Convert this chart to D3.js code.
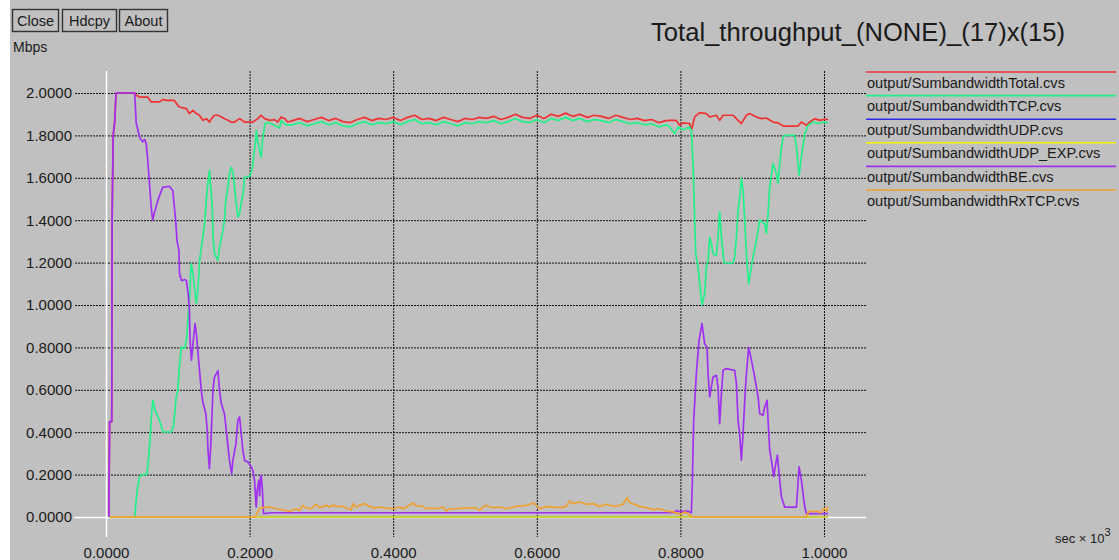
<!DOCTYPE html>
<html>
<head>
<meta charset="utf-8">
<script src="https://cdn.jsdelivr.net/npm/d3@7"></script>
<style>
  body { margin: 0; background: #fff; }
  svg { display: block; }
  text { font-family: "Liberation Sans", Arial, Helvetica, sans-serif; fill: #1a1a1a; }
</style>
</head>
<body>
<svg id="chart" width="1119" height="560"></svg>
<script>
// ---- data ----
var title = "Total_throughput_(NONE)_(17)x(15)";
var buttons = ["Close", "Hdcpy", "About"];
var xTicks = [0, 0.2, 0.4, 0.6, 0.8, 1.0];
var yTicks = [0, 0.2, 0.4, 0.6, 0.8, 1.0, 1.2, 1.4, 1.6, 1.8, 2.0];
var seriesNames = ["output/SumbandwidthTotal.cvs", "output/SumbandwidthTCP.cvs", "output/SumbandwidthUDP.cvs",
                   "output/SumbandwidthUDP_EXP.cvs", "output/SumbandwidthBE.cvs", "output/SumbandwidthRxTCP.cvs"];
var seriesColors = ["#f03232", "#22f088", "#2a2ae8", "#f4f400", "#a030f0", "#f0a030"];

// [time (sec x 10^3), Mbps]
var total = [[0.004,0],[0.005,0.45],[0.008,0.45],[0.0085,1.4],[0.010,1.80],[0.012,1.86],[0.014,2.0],[0.040,2.0],
  [0.042,1.989],[0.047,1.981],[0.058,1.981],[0.063,1.958],[0.0745,1.958],[0.079,1.969],[0.086,1.965],[0.095,1.965],
  [0.102,1.934],[0.112,1.926],[0.116,1.903],[0.121,1.918],[0.126,1.903],[0.130,1.895],[0.135,1.871],[0.140,1.879],
  [0.144,1.863],[0.147,1.879],[0.151,1.895],[0.156,1.895],[0.161,1.887],[0.165,1.879],[0.170,1.871],[0.174,1.863],
  [0.179,1.863],[0.186,1.879],[0.193,1.863],[0.2045,1.863],[0.2115,1.879],[0.216,1.895],[0.221,1.879],[0.228,1.871],
  [0.235,1.874],[0.239,1.863],[0.244,1.887],[0.249,1.879],[0.253,1.863],
  [0.26,1.87],[0.27,1.88],[0.28,1.865],[0.29,1.875],[0.30,1.885],[0.31,1.87],[0.32,1.88],[0.33,1.865],[0.34,1.86],
  [0.35,1.875],[0.36,1.885],[0.37,1.87],[0.38,1.88],[0.39,1.875],[0.40,1.885],[0.41,1.87],[0.42,1.885],[0.43,1.895],
  [0.44,1.875],[0.45,1.88],[0.46,1.87],[0.47,1.885],[0.48,1.875],[0.49,1.865],[0.50,1.88],[0.51,1.875],[0.52,1.885],
  [0.53,1.88],[0.54,1.89],[0.55,1.875],[0.56,1.885],[0.57,1.90],[0.58,1.885],[0.59,1.88],[0.60,1.895],[0.61,1.88],
  [0.62,1.90],[0.63,1.89],[0.64,1.905],[0.65,1.89],[0.66,1.90],[0.67,1.885],[0.68,1.895],[0.69,1.89],[0.70,1.88],
  [0.71,1.895],[0.72,1.885],[0.73,1.875],[0.74,1.88],[0.75,1.87],[0.76,1.875],[0.77,1.86],[0.78,1.87],
  [0.785,1.871],[0.794,1.871],[0.799,1.848],[0.8036,1.859],[0.8129,1.856],[0.8153,1.824],[0.8199,1.887],[0.8268,1.907],
  [0.8361,1.903],[0.8408,1.887],[0.8501,1.895],[0.8547,1.871],[0.8594,1.895],[0.8733,1.895],[0.8803,1.871],[0.8849,1.856],
  [0.8919,1.895],[0.8965,1.903],[0.9058,1.887],[0.9128,1.879],[0.9197,1.882],[0.929,1.863],[0.936,1.859],[0.943,1.844],
  [0.9639,1.844],[0.9685,1.863],[0.9755,1.848],[0.9801,1.863],[0.9871,1.879],[0.9941,1.871],[1.001,1.876],[1.0057,1.876]];

var tcp = [[0.005,0],[0.040,0],[0.042,0.08],[0.044,0.14],[0.0467,0.188],[0.049,0.2],[0.0569,0.2],[0.059,0.267],
  [0.0616,0.377],[0.0635,0.488],[0.0653,0.55],[0.068,0.51],[0.071,0.48],[0.0745,0.456],[0.0792,0.401],[0.0908,0.401],
  [0.094,0.43],[0.0978,0.566],[0.100,0.597],[0.102,0.70],[0.1048,0.802],[0.108,0.795],[0.110,0.80],[0.1126,0.85],
  [0.114,0.93],[0.1163,1.022],[0.118,1.16],[0.1187,1.195],[0.121,1.15],[0.123,1.09],[0.1257,1.006],[0.128,1.07],
  [0.1303,1.21],[0.134,1.30],[0.1372,1.383],[0.139,1.46],[0.141,1.55],[0.1442,1.635],[0.146,1.55],[0.148,1.46],
  [0.149,1.33],[0.1512,1.242],[0.1558,1.21],[0.158,1.27],[0.1628,1.352],[0.165,1.40],[0.167,1.50],[0.1697,1.556],
  [0.172,1.62],[0.1744,1.65],[0.177,1.62],[0.179,1.556],[0.181,1.49],[0.1837,1.415],[0.186,1.43],[0.188,1.477],
  [0.191,1.525],[0.193,1.603],[0.198,1.605],[0.2009,1.611],[0.204,1.65],[0.206,1.71],[0.2083,1.777],[0.2093,1.824],
  [0.211,1.777],[0.2139,1.73],[0.2162,1.698],[0.218,1.777],[0.220,1.824],[0.2213,1.855],[0.2278,1.86],[0.2417,1.835],
  [0.244,1.87],[0.251,1.85],
  [0.26,1.85],[0.27,1.86],[0.28,1.845],[0.29,1.855],[0.30,1.865],[0.31,1.85],[0.32,1.86],[0.33,1.845],[0.34,1.84],
  [0.35,1.855],[0.36,1.865],[0.37,1.85],[0.38,1.86],[0.39,1.855],[0.40,1.865],[0.41,1.85],[0.42,1.865],[0.43,1.875],
  [0.44,1.855],[0.45,1.86],[0.46,1.85],[0.47,1.865],[0.48,1.855],[0.49,1.845],[0.50,1.86],[0.51,1.855],[0.52,1.865],
  [0.53,1.86],[0.54,1.87],[0.55,1.855],[0.56,1.865],[0.57,1.88],[0.58,1.865],[0.59,1.86],[0.60,1.875],[0.61,1.86],
  [0.62,1.88],[0.63,1.87],[0.64,1.885],[0.65,1.87],[0.66,1.88],[0.67,1.865],[0.68,1.875],[0.69,1.87],[0.70,1.86],
  [0.71,1.875],[0.72,1.865],[0.73,1.855],[0.74,1.86],[0.75,1.85],[0.76,1.855],[0.77,1.84],[0.78,1.85],
  [0.785,1.84],[0.792,1.808],[0.797,1.84],[0.8036,1.827],[0.8129,1.84],[0.8153,1.824],[0.8176,1.667],[0.8199,1.40],
  [0.8213,1.242],[0.8245,1.18],[0.8278,1.07],[0.8301,1.0],[0.8338,1.054],[0.8361,1.18],[0.8385,1.21],[0.8408,1.32],
  [0.8431,1.29],[0.8454,1.242],[0.8501,1.234],[0.8524,1.32],[0.8547,1.439],[0.8571,1.32],[0.8594,1.242],[0.8608,1.198],
  [0.8733,1.198],[0.8756,1.227],[0.878,1.32],[0.8803,1.446],[0.8826,1.51],[0.8849,1.596],[0.8873,1.541],[0.8896,1.40],
  [0.8919,1.242],[0.8951,1.10],[0.8965,1.132],[0.9012,1.227],[0.9058,1.305],[0.9105,1.40],[0.9174,1.384],[0.9197,1.337],
  [0.9221,1.431],[0.9244,1.557],[0.929,1.667],[0.9337,1.62],[0.936,1.573],[0.9383,1.667],[0.9407,1.745],[0.943,1.792],
  [0.9453,1.80],[0.9592,1.80],[0.9616,1.745],[0.9653,1.612],[0.9685,1.698],[0.9732,1.808],[0.9778,1.848],[0.9848,1.863],
  [0.9918,1.856],[0.9987,1.863],[1.0057,1.859]];

var udp = [[0.005,0],[1.0057,0]];
var udpExp = [[0.005,0],[1.0057,0]];

var be = [[0.004,0],[0.005,0.45],[0.008,0.45],[0.0085,1.4],[0.010,1.80],[0.012,1.86],[0.014,2.0],[0.040,2.0],
  [0.042,1.86],[0.047,1.79],[0.051,1.77],[0.054,1.78],[0.056,1.76],[0.058,1.69],[0.060,1.60],[0.063,1.46],[0.065,1.40],
  [0.067,1.43],[0.072,1.49],[0.075,1.52],[0.079,1.555],[0.088,1.56],[0.093,1.54],[0.097,1.40],[0.099,1.30],[0.1015,1.26],
  [0.1024,1.147],[0.1052,1.115],[0.110,1.12],[0.112,1.115],[0.1145,1.05],[0.116,0.99],[0.1172,0.83],[0.119,0.74],
  [0.1215,0.83],[0.124,0.912],[0.126,0.86],[0.128,0.78],[0.1303,0.69],[0.1326,0.60],[0.135,0.54],[0.139,0.487],
  [0.141,0.41],[0.142,0.32],[0.144,0.228],[0.146,0.34],[0.149,0.60],[0.151,0.66],[0.156,0.69],[0.158,0.60],
  [0.1605,0.535],[0.165,0.487],[0.1675,0.41],[0.170,0.33],[0.172,0.267],[0.175,0.205],[0.1767,0.267],[0.181,0.346],
  [0.1836,0.456],[0.186,0.472],[0.1874,0.425],[0.1906,0.315],[0.193,0.267],[0.1976,0.259],[0.2023,0.236],[0.2045,0.22],
  [0.2069,0.173],[0.2092,0.047],[0.2106,0.126],[0.2129,0.173],[0.2139,0.10],[0.2152,0.19],[0.2162,0.196],[0.2176,0.14],
  [0.2194,0.016],[0.23,0.02],[0.79,0.02],[0.7943,0.03],[0.80,0.025],[0.81,0.028],[0.8153,0.02],[0.8167,0.173],
  [0.8185,0.456],[0.8222,0.676],[0.826,0.833],[0.8301,0.912],[0.8338,0.817],[0.8371,0.80],[0.8385,0.676],[0.8408,0.566],
  [0.8431,0.613],[0.8454,0.66],[0.8501,0.668],[0.8524,0.613],[0.8547,0.44],[0.8571,0.582],[0.8594,0.692],[0.864,0.70],
  [0.8756,0.692],[0.878,0.629],[0.8803,0.456],[0.8826,0.393],[0.8849,0.268],[0.8873,0.393],[0.8896,0.55],[0.8919,0.676],
  [0.8951,0.80],[0.8989,0.74],[0.9035,0.66],[0.9082,0.566],[0.9105,0.487],[0.9151,0.48],[0.9174,0.518],[0.9207,0.55],
  [0.9221,0.456],[0.9244,0.315],[0.9267,0.268],[0.930,0.19],[0.9328,0.252],[0.9351,0.292],[0.9383,0.173],[0.9407,0.094],
  [0.9453,0.047],[0.9616,0.047],[0.9653,0.236],[0.9685,0.173],[0.9732,0.047],[0.9755,0.016],[1.0057,0.016]];

var rxTcp = [[0.005,0],[0.2069,0],[0.2092,0.01],[0.2139,0.04],[0.2185,0.044],[0.2278,0.047],[0.2371,0.039],[0.2464,0.034],
  [0.2557,0.026],[0.265,0.039],[0.2696,0.031],[0.2743,0.055],[0.2789,0.042],[0.2859,0.039],[0.2919,0.06],[0.2975,0.044],
  [0.3068,0.055],[0.3115,0.047],[0.3161,0.057],[0.3208,0.05],[0.3301,0.05],[0.337,0.039],[0.3416,0.034],[0.344,0.063],
  [0.3486,0.047],[0.3532,0.055],[0.3602,0.063],[0.3672,0.05],[0.3741,0.042],[0.3811,0.047],[0.3904,0.042],[0.3997,0.039],
  [0.409,0.047],[0.4136,0.039],[0.4229,0.055],[0.4275,0.066],[0.4322,0.053],[0.4415,0.05],[0.4461,0.039],[0.4508,0.042],
  [0.4601,0.039],[0.4694,0.047],[0.474,0.028],[0.4786,0.039],[0.4879,0.039],[0.4972,0.042],[0.5158,0.042],[0.5204,0.031],
  [0.525,0.047],[0.5297,0.055],[0.5344,0.047],[0.5389,0.044],[0.5482,0.047],[0.5575,0.039],[0.5714,0.05],[0.5854,0.055],
  [0.596,0.066],[0.6039,0.039],[0.6132,0.05],[0.6225,0.047],[0.6318,0.044],[0.6411,0.05],[0.6457,0.076],[0.6503,0.063],
  [0.6596,0.071],[0.6689,0.06],[0.6782,0.063],[0.6875,0.05],[0.6968,0.06],[0.7061,0.05],[0.7153,0.055],[0.72,0.06],
  [0.726,0.091],[0.7293,0.066],[0.7362,0.06],[0.7432,0.05],[0.7525,0.044],[0.7618,0.035],[0.7711,0.039],[0.7804,0.028],
  [0.7897,0.024],[0.7967,0.016],[0.8013,0.013],[0.806,0.024],[0.8106,0.016],[0.8153,0.003],[0.8176,0],[0.9746,0],
  [0.9793,0.027],[0.9909,0.027],[0.9955,0.019],[1.0002,0.042],[1.0034,0.027],[1.0057,0.05]];

var seriesData = [total, tcp, udp, udpExp, be, rxTcp];

// ---- drawing ----
var svg = d3.select("#chart");
var W = 1119, H = 560;

svg.append("rect").attr("width", W).attr("height", H).attr("fill", "#fff");
svg.append("rect").attr("x", 10).attr("width", W - 10).attr("height", H).attr("fill", "#c0c0c0");

var x = d3.scaleLinear().domain([0, 1]).range([106, 824]);
var y = d3.scaleLinear().domain([0, 2]).range([517, 93]);

var gridLeft = 74, gridRight = 866, gridTop = 71, gridBottom = 537;

// y grid + labels
var yAxis = svg.append("g")
  .attr("transform", "translate(" + gridRight + ",0)")
  .call(d3.axisLeft(y).tickValues(yTicks).tickSize(gridRight - gridLeft).tickPadding(2).tickFormat(d3.format(".4f")));

// x grid + labels
var xAxis = svg.append("g")
  .attr("transform", "translate(0," + gridTop + ")")
  .call(d3.axisBottom(x).tickValues(xTicks).tickSize(gridBottom - gridTop).tickPadding(10).tickFormat(d3.format(".4f")));

[yAxis, xAxis].forEach(function(g){
  g.select(".domain").remove();
  g.selectAll(".tick line")
    .attr("stroke", function(d){ return d === 0 ? "#fff" : "#111"; })
    .attr("stroke-width", function(d){ return d === 0 ? 1.5 : 1; })
    .attr("stroke-dasharray", function(d){ return d === 0 ? null : "2,1"; });
  g.selectAll(".tick text")
    .style("font-size", "15px")
    .attr("fill", "#1a1a1a");
});

// zero axes drawn on top of the grid in white
xAxis.raise();

// lines
var line = d3.line()
  .x(function(d){ return x(d[0]); })
  .y(function(d){ return y(d[1]); });

svg.append("g").selectAll("path")
  .data(seriesData)
  .enter()
  .append("path")
  .attr("d", line)
  .attr("fill", "none")
  .attr("stroke", function(d, i){ return seriesColors[i]; })
  .attr("stroke-width", 1.7)
  .attr("stroke-linejoin", "round");

// legend
var legend = svg.append("g").attr("transform", "translate(866,72)");
var items = legend.selectAll("g")
  .data(seriesNames)
  .enter()
  .append("g")
  .attr("transform", function(d, i){ return "translate(0," + (i * 23.6) + ")"; });
items.append("line")
  .attr("x1", 0).attr("x2", 250)
  .attr("stroke", function(d, i){ return seriesColors[i]; })
  .attr("stroke-width", 1.6);
items.append("text")
  .attr("x", 1).attr("y", 15.5)
  .style("font-size", "14.6px")
  .text(function(d){ return d; });

// title
svg.append("text")
  .attr("x", 1065).attr("y", 41)
  .attr("text-anchor", "end")
  .style("font-size", "25.6px")
  .text(title);

// buttons
var btnX = [12, 62, 119], btnW = [46, 54, 48];
var btn = svg.selectAll("g.btn")
  .data(buttons)
  .enter()
  .append("g")
  .attr("class", "btn")
  .attr("transform", function(d, i){ return "translate(" + btnX[i] + ",9)"; });
btn.append("rect")
  .attr("x", 0.5).attr("y", 0.5)
  .attr("width", function(d, i){ return btnW[i]; })
  .attr("height", 22)
  .attr("fill", "#c0c0c0")
  .attr("stroke", "#333")
  .attr("stroke-width", 1.4);
btn.append("text")
  .attr("x", function(d, i){ return btnW[i] / 2 + 0.5; })
  .attr("y", 17)
  .attr("text-anchor", "middle")
  .style("font-size", "14.5px")
  .text(function(d){ return d; });

// axis units
svg.append("text").attr("x", 13).attr("y", 52).style("font-size", "14px").text("Mbps");
var unit = svg.append("text").attr("x", 1055).attr("y", 543).style("font-size", "13px");
unit.append("tspan").text("sec \u00d7 10");
unit.append("tspan").attr("dy", -7).style("font-size", "11px").text("3");
</script>
</body>
</html>
